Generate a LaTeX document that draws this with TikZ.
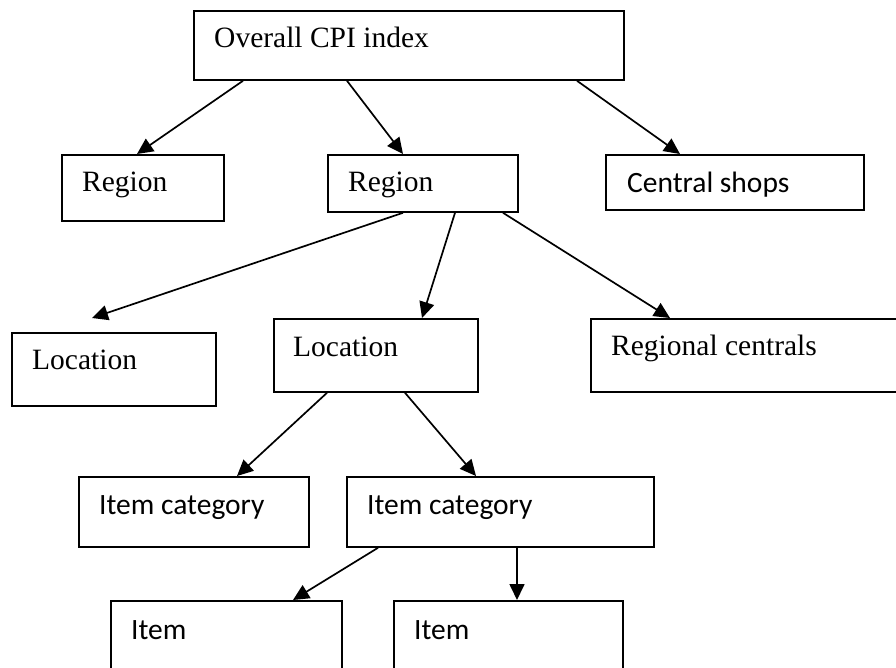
\documentclass[tikz,border=0pt]{standalone}
\usepackage{fontspec}
\setmainfont{Liberation Serif}
\newfontfamily\calfont{Carlito}
\usetikzlibrary{arrows.meta,calc}
\tikzset{
  boxnode/.style={draw, line width=1.8pt, inner sep=0pt, anchor=north west},
  lbl/.style={inner sep=0pt, anchor=base west, font=\fontsize{29.5}{34}\selectfont},
  clbl/.style={inner sep=0pt, anchor=base west, font=\calfont\fontsize{29.5}{34}\selectfont},
  conn/.style={line width=1.7pt, -{Triangle[length=16pt,width=15pt]}}
}
\begin{document}
\begin{tikzpicture}[x=1pt,y=-1pt]
\useasboundingbox (0,0) rectangle (896,668);
\clip (0,0) rectangle (896,668);
% boxes
\node[boxnode, minimum width=430pt, minimum height=69pt] (top) at (193,10) {};
\node[boxnode, minimum width=162pt, minimum height=66pt] (reg1) at (61,154) {};
\node[boxnode, minimum width=190pt, minimum height=57pt] (reg2) at (327,154) {};
\node[boxnode, minimum width=258pt, minimum height=55pt] (shops) at (605,154) {};
\node[boxnode, minimum width=204pt, minimum height=73pt] (loc1) at (11,332) {};
\node[boxnode, minimum width=204pt, minimum height=73pt] (loc2) at (273,318) {};
\node[boxnode, minimum width=330pt, minimum height=73pt] (regc) at (590,318) {};
\node[boxnode, minimum width=230pt, minimum height=70pt] (cat1) at (78,476) {};
\node[boxnode, minimum width=307pt, minimum height=70pt] (cat2) at (346,476) {};
\node[boxnode, minimum width=231pt, minimum height=100pt] (item1) at (110,600) {};
\node[boxnode, minimum width=229pt, minimum height=100pt] (item2) at (393,600) {};
% labels
\node[lbl] (ttop) at (214,48) {Overall CPI index};
\node[lbl] (treg1) at (82,192) {Region};
\node[lbl] (treg2) at (348,192) {Region};
\node[clbl] (tshops) at (627,193) {Central shops};
\node[lbl] (tloc1) at (32,369) {Location};
\node[lbl] (tloc2) at (293,356) {Location};
\node[lbl] (tregc) at (611,355) {Regional centrals};
\node[clbl] (tcat1) at (99,514) {Item category};
\node[clbl] (tcat2) at (367,514) {Item category};
\node[clbl] (titem1) at (131,639) {Item};
\node[clbl] (titem2) at (414,639) {Item};
% connectors
\draw[conn] ($(top.south west)+(50,0)$) -- ($(reg1.north west)+(76,0)$);
\draw[conn] ($(top.south west)+(154,0)$) -- ($(reg2.north west)+(76,0)$);
\draw[conn] ($(top.south west)+(384,0)$) -- ($(shops.north west)+(75,0)$);
\draw[conn] ($(reg2.south west)+(76,0)$) -- ($(loc1.north west)+(81,-14)$);
\draw[conn] ($(reg2.south west)+(128,0)$) -- ($(loc2.north west)+(149,0)$);
\draw[conn] ($(reg2.south west)+(176,0)$) -- ($(regc.north west)+(80,0)$);
\draw[conn] ($(loc2.south west)+(54,0)$) -- ($(cat1.north west)+(159,0)$);
\draw[conn] ($(loc2.south west)+(132,0)$) -- ($(cat2.north west)+(130,0)$);
\draw[conn] ($(cat2.south west)+(32,0)$) -- ($(item1.north west)+(183,0)$);
\draw[conn] ($(cat2.south west)+(171,0)$) -- ($(item2.north west)+(124,0)$);
\end{tikzpicture}
\end{document}
